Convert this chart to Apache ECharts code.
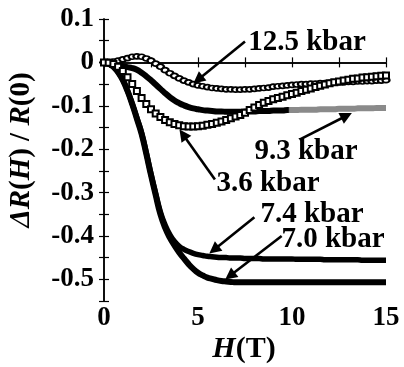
<!DOCTYPE html>
<html><head><meta charset="utf-8">
<script src="https://cdn.jsdelivr.net/npm/echarts@6/dist/echarts.min.js"></script>
<style>html,body{margin:0;padding:0;background:#fff}#c{width:404px;height:367px}</style>
</head><body><div id="c"></div>
<script>
const fieldT = [0,0.25,0.5,0.75,1,1.25,1.5,1.75,2,2.25,2.5,2.75,3,3.25,3.5,3.75,4,4.25,4.5,4.75,5,5.25,5.5,5.75,6,6.25,6.5,6.75,7,7.25,7.5,7.75,8,8.25,8.5,8.75,9,9.25,9.5,9.75,10,10.25,10.5,10.75,11,11.25,11.5,11.75,12,12.25,12.5,12.75,13,13.25,13.5,13.75,14,14.25,14.5,14.75,15];
const kbar12_5 = [0,0.001,0.002,0.004,0.007,0.010,0.013,0.014,0.013,0.009,0.004,-0.003,-0.010,-0.018,-0.025,-0.031,-0.037,-0.042,-0.046,-0.050,-0.053,-0.055,-0.057,-0.059,-0.060,-0.061,-0.062,-0.062,-0.063,-0.063,-0.062,-0.062,-0.061,-0.060,-0.059,-0.058,-0.056,-0.055,-0.054,-0.053,-0.052,-0.051,-0.050,-0.050,-0.049,-0.049,-0.048,-0.048,-0.047,-0.047,-0.046,-0.046,-0.045,-0.045,-0.044,-0.044,-0.043,-0.043,-0.042,-0.042,-0.041];
const kbar9_3 = [0,-0.001,-0.003,-0.006,-0.009,-0.011,-0.013,-0.017,-0.024,-0.032,-0.041,-0.051,-0.061,-0.071,-0.080,-0.088,-0.094,-0.099,-0.103,-0.106,-0.108,-0.110,-0.111,-0.112,-0.113,-0.113,-0.114,-0.114,-0.114,-0.114,-0.113,-0.113,-0.113,-0.112,-0.112,-0.112,-0.111,-0.111,-0.111,-0.110,-0.110,-0.110,-0.109,-0.109,-0.109,-0.109,-0.108,-0.108,-0.108,-0.108,-0.107,-0.107,-0.107,-0.107,-0.106,-0.106,-0.106,-0.106,-0.105,-0.105,-0.105];
const kbar3_6 = [0,-0.001,-0.004,-0.010,-0.020,-0.034,-0.050,-0.066,-0.082,-0.096,-0.108,-0.118,-0.126,-0.133,-0.138,-0.142,-0.145,-0.147,-0.148,-0.148,-0.147,-0.146,-0.144,-0.142,-0.139,-0.136,-0.133,-0.129,-0.125,-0.121,-0.116,-0.110,-0.104,-0.098,-0.093,-0.089,-0.085,-0.082,-0.079,-0.076,-0.073,-0.070,-0.066,-0.063,-0.060,-0.057,-0.054,-0.051,-0.048,-0.046,-0.044,-0.042,-0.040,-0.038,-0.037,-0.035,-0.034,-0.033,-0.032,-0.031,-0.030];
const kbar7_4 = [0,-0.003,-0.010,-0.022,-0.040,-0.065,-0.095,-0.128,-0.162,-0.208,-0.257,-0.302,-0.345,-0.375,-0.397,-0.413,-0.424,-0.431,-0.436,-0.440,-0.443,-0.445,-0.447,-0.448,-0.449,-0.450,-0.450,-0.451,-0.451,-0.451,-0.452,-0.452,-0.452,-0.452,-0.453,-0.453,-0.453,-0.453,-0.453,-0.453,-0.453,-0.454,-0.454,-0.454,-0.454,-0.454,-0.454,-0.455,-0.455,-0.455,-0.455,-0.455,-0.455,-0.455,-0.455,-0.456,-0.456,-0.456,-0.456,-0.456,-0.456];
const kbar7_0 = [0,-0.003,-0.010,-0.023,-0.041,-0.066,-0.096,-0.130,-0.165,-0.211,-0.260,-0.306,-0.350,-0.381,-0.404,-0.422,-0.438,-0.452,-0.465,-0.476,-0.485,-0.491,-0.496,-0.499,-0.502,-0.504,-0.505,-0.506,-0.507,-0.507,-0.507,-0.507,-0.507,-0.507,-0.507,-0.507,-0.507,-0.507,-0.507,-0.507,-0.507,-0.507,-0.507,-0.507,-0.507,-0.507,-0.507,-0.507,-0.507,-0.507,-0.507,-0.507,-0.507,-0.507,-0.507,-0.507,-0.507,-0.507,-0.507,-0.507,-0.507];
const seriesNames = ['12.5 kbar','9.3 kbar','3.6 kbar','7.4 kbar','7.0 kbar'];
// arrows: [tail, tip] in data coordinates [H, dR/R]
const arrow12_5 = [[7.5,0.048],[5.0,-0.040]];
const arrow9_3 = [[10.4,-0.178],[12.9,-0.123]];
const arrow3_6 = [[5.9,-0.27],[4.2,-0.166]];
const arrow7_4 = [[8.0,-0.357],[5.85,-0.432]];
const arrow7_0 = [[9.45,-0.40],[6.7,-0.492]];
const xTicks = [0,5,10,15];

const FONT = "'Liberation Serif','Times New Roman',serif";
const pair = (ys) => fieldT.map((h,i)=>[h, ys[i]]);
function arrowML(a){
  return {
    silent:true, animation:false,
    symbol:['none','triangle'], symbolSize:12,
    label:{show:false},
    itemStyle:{color:'#000'},
    lineStyle:{color:'#000', width:2.6, type:'solid'},
    data:[[{coord:a[0]},{coord:a[1]}]]
  };
}
const chart = echarts.init(document.getElementById('c'));
const axisCommon = {
  axisLine:{show:true, lineStyle:{color:'#000', width:1.5}},
  axisTick:{show:true, inside:true, length:5, lineStyle:{color:'#000', width:1.2}},
  splitLine:{show:false}
};
const grey93 = new echarts.graphic.LinearGradient(0,0,1,0,[
  {offset:0,color:'#000'},{offset:0.65,color:'#000'},{offset:0.655,color:'#8a8a8a'},{offset:1,color:'#8a8a8a'}]);
chart.setOption({
  animation:false,
  backgroundColor:'#fff',
  grid:{left:104, right:18, top:19, bottom:66},
  xAxis:[
    Object.assign({type:'value', min:0, max:15, interval:2.5, position:'bottom',
      axisLabel:{color:'#000', fontFamily:FONT, fontWeight:'bold', fontSize:27, margin:4,
        formatter:v=> xTicks.indexOf(Math.round(v*10)/10)>=0 ? String(Math.round(v)) : ''}}, axisCommon),
    Object.assign({type:'value', min:0, max:15, interval:2.5, position:'top', axisLabel:{show:false}}, axisCommon)
  ],
  yAxis:[
    Object.assign({type:'value', min:-0.55, max:0.1, interval:0.05, position:'left',
      axisLabel:{color:'#000', fontFamily:FONT, fontWeight:'bold', fontSize:27, margin:10,
        formatter:v=>{const k=Math.round(v*100); if(k%10!==0) return ''; const s=(k/100).toFixed(1); return k===0?'0':s;}}}, axisCommon),
    Object.assign({type:'value', min:-0.55, max:0.1, interval:0.05, position:'right', axisLabel:{show:false}}, axisCommon)
  ],
  series:[
    {name:seriesNames[0], type:'line', data:pair(kbar12_5), smooth:true,
      symbol:'emptyCircle', symbolSize:[7,5], showSymbol:true,
      itemStyle:{color:'#000', borderWidth:1.2}, lineStyle:{color:'#000', width:1},
      markLine:arrowML(arrow12_5), z:3},
    {name:seriesNames[1], type:'line', data:pair(kbar9_3), smooth:true,
      symbol:'none', lineStyle:{width:6, color:grey93}, markLine:arrowML(arrow9_3), z:2},
    {name:seriesNames[2], type:'line', data:pair(kbar3_6), smooth:true,
      symbol:'emptyRect', symbolSize:6, showSymbol:true,
      itemStyle:{color:'#000', borderWidth:1.2}, lineStyle:{color:'#000', width:1},
      markLine:arrowML(arrow3_6), z:4},
    {name:seriesNames[3], type:'line', data:pair(kbar7_4), smooth:true,
      symbol:'none', lineStyle:{color:'#000', width:5.5}, markLine:arrowML(arrow7_4)},
    {name:seriesNames[4], type:'line', data:pair(kbar7_0), smooth:true,
      symbol:'none', lineStyle:{color:'#000', width:6}, markLine:arrowML(arrow7_0)}
  ],
  graphic:[
    {type:'text', x:307, y:43, style:{text:'12.5 kbar', font:"bold 29px "+FONT, fill:'#000', align:'center', verticalAlign:'middle'}},
    {type:'text', x:306, y:152, style:{text:'9.3 kbar', font:"bold 29px "+FONT, fill:'#000', align:'center', verticalAlign:'middle'}},
    {type:'text', x:268, y:184, style:{text:'3.6 kbar', font:"bold 29px "+FONT, fill:'#000', align:'center', verticalAlign:'middle'}},
    {type:'text', x:312, y:215, style:{text:'7.4 kbar', font:"bold 29px "+FONT, fill:'#000', align:'center', verticalAlign:'middle'}},
    {type:'text', x:333, y:240, style:{text:'7.0 kbar', font:"bold 29px "+FONT, fill:'#000', align:'center', verticalAlign:'middle'}},
    {type:'text', x:244, y:349, style:{text:'{i|H}(T)', font:"bold 30px "+FONT, fill:'#000', align:'center', verticalAlign:'middle',
      rich:{i:{fontStyle:'italic', fontWeight:'bold', fontSize:30, fontFamily:FONT, fill:'#000'}}}},
    {type:'text', x:22, y:150, rotation:Math.PI/2, style:{text:'{i|ΔR}({i|H}) / {i|R}(0)', font:"bold 29px "+FONT, fill:'#000', align:'center', verticalAlign:'middle',
      rich:{i:{fontStyle:'italic', fontWeight:'bold', fontSize:29, fontFamily:FONT, fill:'#000'}}}}
  ]
});
</script></body></html>
